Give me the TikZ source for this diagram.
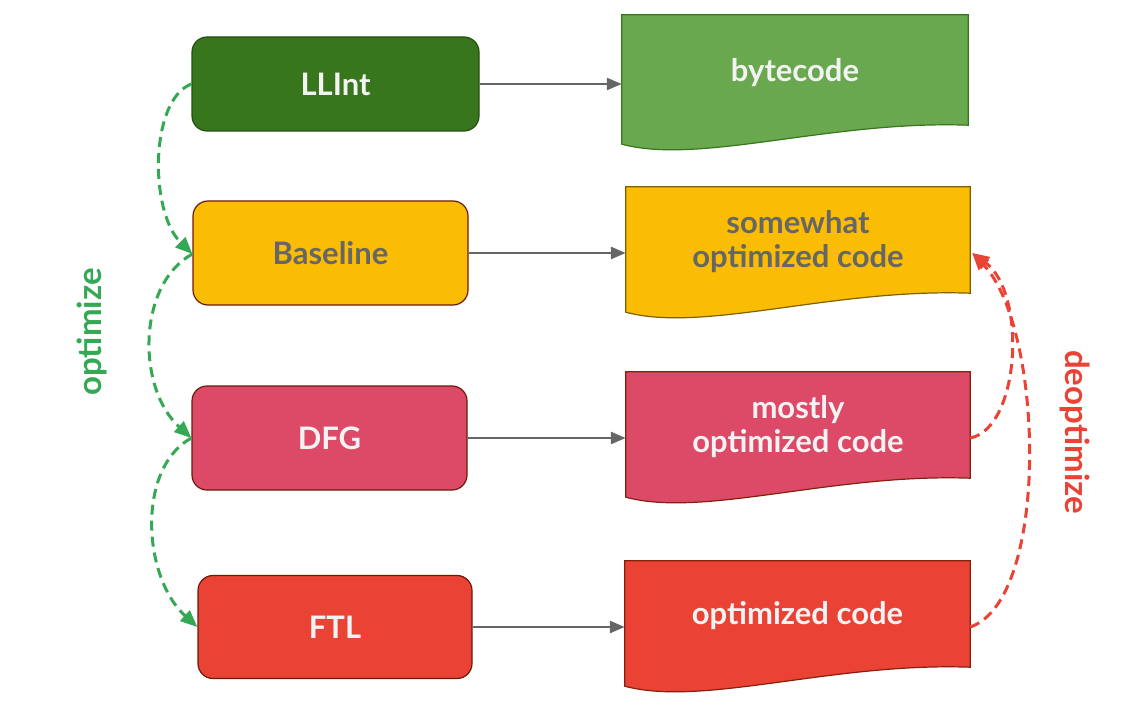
\documentclass[tikz,border=0pt]{standalone}
\usepackage{fontspec}
\setmainfont{Lato}
\usetikzlibrary{arrows.meta}
\definecolor{llfill}{HTML}{38761D}
\definecolor{lldraw}{HTML}{274E13}
\definecolor{bcfill}{HTML}{6AA84F}
\definecolor{bcdraw}{HTML}{38761D}
\definecolor{yfill}{HTML}{FBBC04}
\definecolor{ydraw}{HTML}{7F6000}
\definecolor{pfill}{HTML}{DC4A68}
\definecolor{rfill}{HTML}{EA4335}
\definecolor{bdraw}{HTML}{6B1A0A}
\definecolor{ddraw}{HTML}{85200C}
\definecolor{wtext}{HTML}{F3F3F3}
\definecolor{gtext}{HTML}{666666}
\definecolor{optgreen}{HTML}{34A853}
\definecolor{deopred}{HTML}{EA4335}
\definecolor{arrowgray}{HTML}{666666}
\newcommand\docpath[3]{%
  \draw[line width=1.2pt, draw=#2, fill=#1] (#3.north west) -- (#3.north east) -- (#3.south east)
    .. controls +(-138,-5) and +(78,21) .. ([yshift=-19pt]#3.south west) -- cycle;}
\begin{document}
\begin{tikzpicture}[x=1pt,y=-1pt,
  lbl/.style={font=\fontsize{31}{34}\selectfont\bfseries},
  sidelbl/.style={font=\fontsize{33}{36}\selectfont\bfseries},
  stagebox/.style={draw, rounded corners=15pt, line width=1.2pt, lbl, align=center},
  docbox/.style={inner sep=0pt},
  grayarrow/.style={draw=arrowgray, line width=2.6pt, -{Triangle[length=15pt,width=12pt]}},
  optarrow/.style={draw=optgreen, line width=3pt, dash pattern=on 10pt off 6pt, -{Triangle[length=17pt,width=14pt]}},
  deoparrow/.style={draw=deopred, line width=3pt, dash pattern=on 10pt off 6pt, -{Triangle[length=17pt,width=14pt]}}
]
\useasboundingbox (0,0) rectangle (1140,722);

% stage boxes
\node[stagebox, fill=llfill, draw=lldraw, text=wtext, minimum width=287pt, minimum height=94pt] (llint) at (335.5,84) {LLInt};
\node[stagebox, fill=yfill, draw=bdraw, text=gtext, minimum width=275pt, minimum height=104pt] (base) at (330.5,253) {Baseline};
\node[stagebox, fill=pfill, draw=bdraw, text=wtext, minimum width=275pt, minimum height=104pt] (dfg) at (329.5,438) {DFG};
\node[stagebox, fill=rfill, draw=bdraw, text=wtext, minimum width=274pt, minimum height=103pt] (ftl) at (335,627) {FTL};

% document shapes (geometry nodes)
\path node[docbox, minimum width=346pt, minimum height=110pt] (bcshape) at (795,70) {};
\docpath{bcfill}{bcdraw}{bcshape}
\node[lbl, text=wtext] (bc) at ([yshift=-3pt]bcshape.center) {bytecode};

\path node[docbox, minimum width=344pt, minimum height=106pt] (swshape) at (798,240) {};
\docpath{yfill}{ydraw}{swshape}
\node[lbl, text=gtext, align=center] (sw) at ([yshift=-2pt]swshape.center) {somewhat\\optimized code};

\path node[docbox, minimum width=344pt, minimum height=106pt] (moshape) at (798,425) {};
\docpath{pfill}{ddraw}{moshape}
\node[lbl, text=wtext, align=center] (mo) at ([yshift=-2pt]moshape.center) {mostly\\optimized code};

\path node[docbox, minimum width=345pt, minimum height=106pt] (ocshape) at (797.5,614) {};
\docpath{rfill}{ddraw}{ocshape}
\node[lbl, text=wtext] (oc) at ([yshift=-2pt]ocshape.center) {optimized code};

% horizontal arrows
\draw[grayarrow] (llint.east) -- (llint.east -| bcshape.west);
\draw[grayarrow] (base.east) -- (base.east -| swshape.west);
\draw[grayarrow] (dfg.east) -- (dfg.east -| moshape.west);
\draw[grayarrow] (ftl.east) -- (ftl.east -| ocshape.west);

% optimize arrows
\draw[optarrow] (llint.west) .. controls +(-42,16) and +(-43,-42) .. ([yshift=-1pt]base.west);
\draw[optarrow] ([yshift=-1pt]base.west) .. controls +(-55,30) and +(-55,-50) .. (dfg.west);
\draw[optarrow] (dfg.west) .. controls +(-55,30) and +(-55,-50) .. (ftl.west);

% deoptimize arrows
\coordinate (tip) at ([xshift=2pt]swshape.east |- base.east);
\draw[deoparrow] (moshape.east |- dfg.east) .. controls +(50,-10) and +(55,40) .. (tip);
\draw[deoparrow] (ocshape.east |- ftl.east) .. controls +(80,-27) and +(72,75) .. (tip);

% labels
\node[sidelbl, text=optgreen, rotate=90] (optlbl) at (92,332) {optimize};
\node[sidelbl, text=deopred, rotate=-90] (deoplbl) at (1075,432) {deoptimize};
\end{tikzpicture}
\end{document}
